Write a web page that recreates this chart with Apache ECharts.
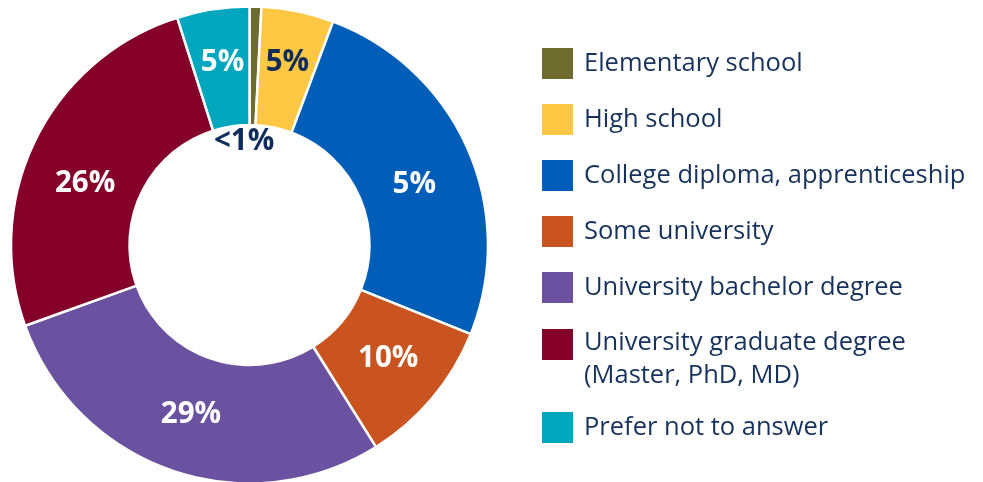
<!DOCTYPE html>
<html>
<head>
<meta charset="utf-8">
<script src="https://cdn.jsdelivr.net/npm/echarts@6/dist/echarts.min.js"></script>
<style>
html,body{margin:0;padding:0;background:#fff;}
#chart{width:983px;height:482px;}
</style>
</head>
<body>
<div id="chart"></div>
<script>
const categories = [
  'Elementary school',
  'High school',
  'College diploma, apprenticeship',
  'Some university',
  'University bachelor degree',
  'University graduate degree\n(Master, PhD, MD)',
  'Prefer not to answer'
];
const values = [0.8, 4.9, 25.4, 10.0, 28.4, 25.6, 4.9];
const labels = ['<1%', '5%', '5%', '10%', '29%', '26%', '5%'];

const colors = ['#6e6b2f', '#fec844', '#005eb8', '#c9541f', '#6a52a1', '#84002a', '#00a6bd'];
const labelColors = ['#0f2d5c', '#0f2d5c', '#fff', '#fff', '#fff', '#fff', '#fff'];
// small label nudges (dx, dy) to match the hand-placed labels of the original
const labelNudges = [[-8, 2], [1, -4], [-2, 13], [-1, -3], [1, -3], [-1, 19], [1, -2]];
const NAVY = '#17335c';
const FONT = '"Open Sans", Lato, sans-serif';

const chart = echarts.init(document.getElementById('chart'), null, {renderer: 'canvas'});

const mainData = categories.map((c, i) => ({
  name: c,
  value: values[i],
  itemStyle: {color: colors[i]},
  label: {show: i !== 0, formatter: labels[i], color: labelColors[i]}
}));
const holeData = categories.map((c, i) => ({
  name: c,
  value: values[i],
  itemStyle: {color: 'rgba(0,0,0,0)', borderWidth: 0},
  label: {show: i === 0, formatter: labels[i], color: labelColors[i]}
}));
const nudge = p => ({dx: labelNudges[p.dataIndex][0], dy: labelNudges[p.dataIndex][1]});

const legendText = {
  color: NAVY,
  fontFamily: FONT,
  fontSize: 25.5,
  lineHeight: 33,
  padding: [0, 0, 0, 5]
};
const legendBase = {
  orient: 'vertical', left: 540, padding: 0,
  itemWidth: 33, itemHeight: 33, itemGap: 21,
  icon: 'rect', selectedMode: false,
  textStyle: legendText
};

chart.setOption({
  animation: false,
  color: colors,
  legend: [
    Object.assign({}, legendBase, {top: 46, data: categories.slice(0, 5)}),
    // graduate degree: swatch only
    Object.assign({}, legendBase, {top: 327, data: categories.slice(5, 6), formatter: () => ''}),
    // graduate degree: two-line text, first line aligned with swatch
    Object.assign({}, legendBase, {
      top: 326,
      data: [{name: categories[5], itemStyle: {opacity: 0}}]
    }),
    Object.assign({}, legendBase, {top: 410, data: categories.slice(6)})
  ],
  series: [
    {
      type: 'pie',
      center: [249.5, 245],
      radius: [120, 238.5],
      startAngle: 90,
      clockwise: true,
      avoidLabelOverlap: false,
      silent: true,
      itemStyle: {borderColor: '#fff', borderWidth: 2.5},
      label: {
        position: 'inside',
        fontFamily: FONT,
        fontWeight: 'bold',
        fontSize: 29.5
      },
      labelLine: {show: false},
      labelLayout: nudge,
      data: mainData
    },
    {
      type: 'pie',
      center: [249.5, 245],
      radius: [84, 120],
      startAngle: 90,
      clockwise: true,
      avoidLabelOverlap: false,
      silent: true,
      label: {
        position: 'inside',
        fontFamily: FONT,
        fontWeight: 'bold',
        fontSize: 29.5
      },
      labelLine: {show: false},
      labelLayout: nudge,
      data: holeData
    }
  ]
});
</script>
</body>
</html>
